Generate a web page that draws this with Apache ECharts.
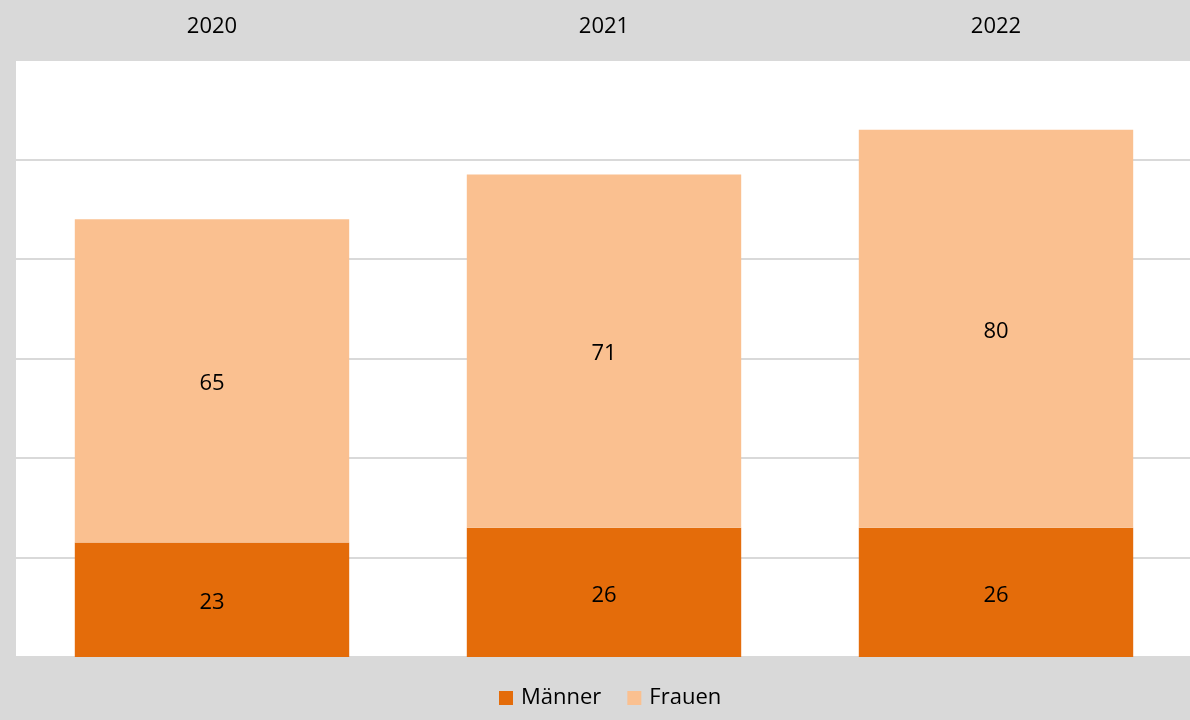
<!DOCTYPE html>
<html>
<head>
<meta charset="utf-8">
<script src="https://cdn.jsdelivr.net/npm/echarts@6/dist/echarts.min.js"></script>
<style>
  html, body { margin: 0; padding: 0; background: #d9d9d9; overflow: hidden; }
  #chart { width: 1192px; height: 720px; }
</style>
</head>
<body>
<div id="chart"></div>
<script>
var years = ['2020', '2021', '2022'];
var maenner = [23, 26, 26];
var frauen = [65, 71, 80];
var yTicks = { min: 0, max: 120, interval: 20 };

var myChart = echarts.init(document.getElementById('chart'));

var labelStyle = {
    show: true,
    position: 'inside',
    offset: [0, 3],
    color: '#000',
    fontSize: 22,
    fontFamily: 'Open Sans'
};

var option = {
    backgroundColor: '#d9d9d9',
    textStyle: { fontFamily: 'Open Sans' },
    color: ['#e46c0a', '#fac090'],
    grid: {
        left: 16,
        right: 0,
        top: 60,
        bottom: 63,
        show: true,
        backgroundColor: '#fff',
        borderWidth: 0
    },
    legend: {
        left: 494,
        top: 682,
        icon: 'rect',
        itemWidth: 14,
        itemHeight: 14,
        itemGap: 26,
        textStyle: { fontSize: 22, color: '#000', padding: [0, 0, 0, 3] },
        data: ['Männer', 'Frauen']
    },
    xAxis: {
        type: 'category',
        position: 'top',
        data: years,
        axisLine: { show: false },
        axisTick: { show: false },
        axisLabel: { fontSize: 22, color: '#000', margin: 22 }
    },
    yAxis: {
        type: 'value',
        min: yTicks.min,
        max: yTicks.max,
        interval: yTicks.interval,
        axisLabel: { show: false },
        axisLine: { show: false },
        axisTick: { show: false },
        splitLine: { lineStyle: { color: '#d9d9d9', width: 2 } }
    },
    series: [
        {
            name: 'Männer',
            type: 'bar',
            stack: 'total',
            barWidth: '70%',
            label: labelStyle,
            data: maenner
        },
        {
            name: 'Frauen',
            type: 'bar',
            stack: 'total',
            barWidth: '70%',
            label: labelStyle,
            data: frauen
        }
    ]
};

myChart.setOption(option);
</script>
</body>
</html>
